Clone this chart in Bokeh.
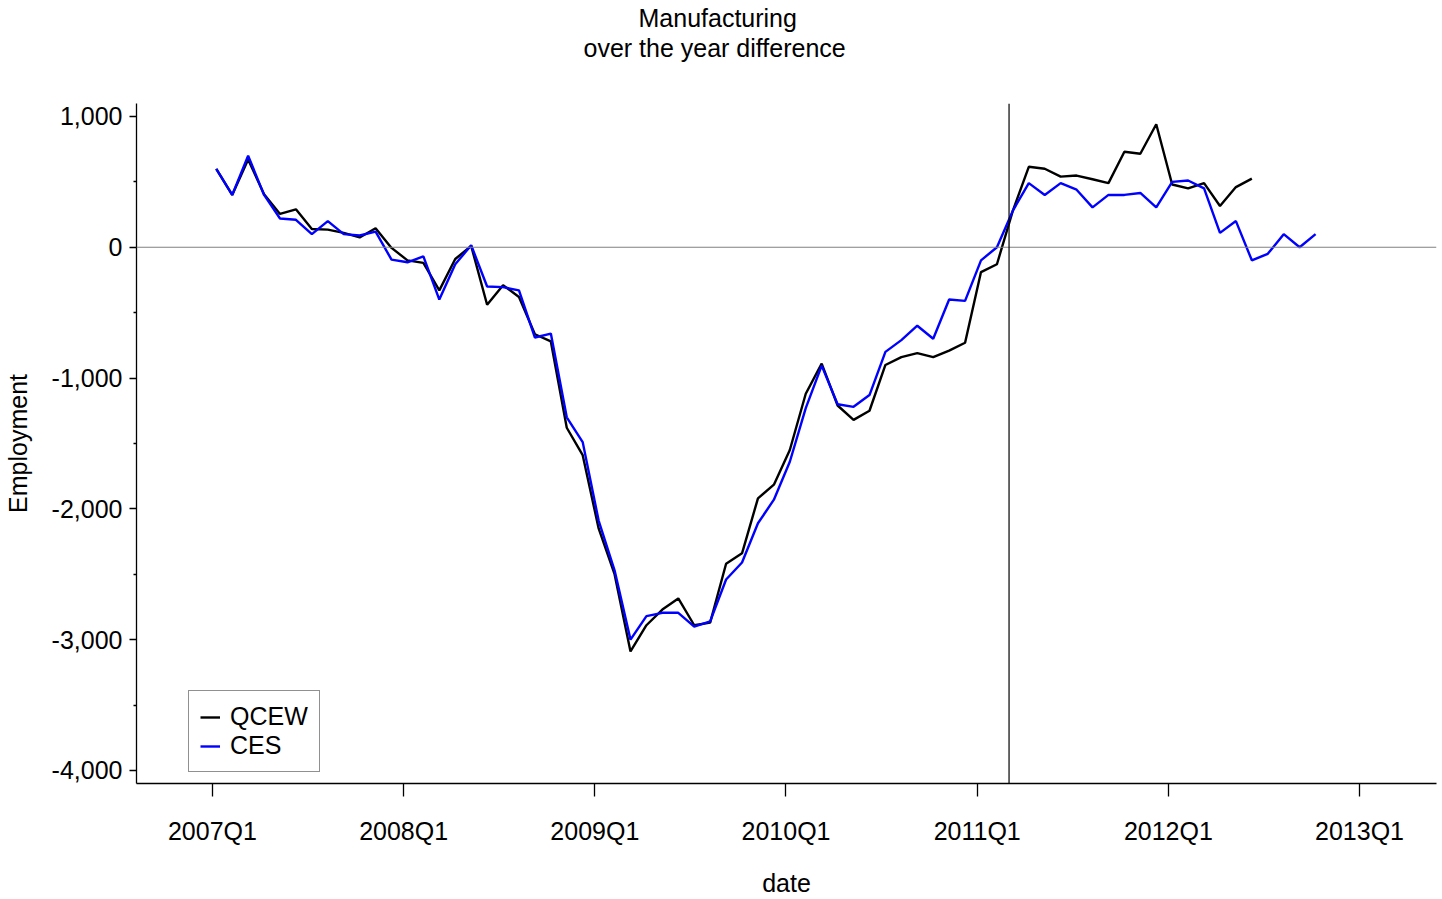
import numpy as np
from bokeh.plotting import figure
from bokeh.models import (Span, FixedTicker, NumeralTickFormatter, Range1d, Title)
from bokeh.embed import file_html
from bokeh.resources import INLINE

# ---------------- data (monthly, starting 2007m1) ----------------
start_year = 2007
qcew = [600, 400, 670, 405, 255, 290, 140, 135, 110, 75,
        145, -5, -100, -120, -330, -90, 10, -440, -290, -380,
        -665, -720, -1380, -1590, -2150, -2500, -3090, -2890, -2770, -2685,
        -2890, -2870, -2420, -2340, -1920, -1815, -1550, -1120, -890, -1210,
        -1320, -1250, -900, -840, -810, -840, -790, -730, -190, -130,
        280, 615, 600, 540, 548, 520, 490, 730, 715, 940,
        480, 450, 490, 315, 460, 525]
ces = [600, 400, 700, 400, 220, 210, 100, 200, 100, 90,
       120, -95, -115, -70, -400, -130, 15, -300, -305, -330,
       -690, -660, -1300, -1490, -2090, -2470, -3000, -2820, -2795, -2795,
       -2900, -2860, -2540, -2410, -2110, -1930, -1640, -1230, -905, -1200,
       -1220, -1130, -800, -710, -600, -700, -400, -410, -100, 0,
       280, 490, 400, 490, 440, 305, 400, 400, 415, 305,
       500, 510, 450, 110, 200, -100, -50, 100, 0, 100]
quarter_labels = ["2007Q1", "2008Q1", "2009Q1", "2010Q1", "2011Q1", "2012Q1", "2013Q1"]
y_ticks = [-4000, -3000, -2000, -1000, 0, 1000]
y_minor = [-3500, -2500, -1500, -500, 500]
break_date = (2011, 3)          # vertical reference line (March 2011)
day_offset = 0.24               # data points plotted a few days into each month

def month_index(year, month):
    return (year - start_year) * 12 + (month - 1)

x_qcew = np.arange(len(qcew)) + day_offset
x_ces = np.arange(len(ces)) + day_offset
tick_pos = [month_index(start_year + i, 1) for i in range(len(quarter_labels))]

FONT = "Liberation Sans"
FS = "25px"

# layout (canvas pixels)
W, H = 1442, 899
FRAME_LEFT, FRAME_RIGHT = 135, 1436
FRAME_TOP, FRAME_BOTTOM = 103, 783

p = figure(width=W, height=H, output_backend="svg", toolbar_location=None,
           x_range=Range1d(-4.767, 76.83), y_range=Range1d(-4100, 1099),
           min_border_left=FRAME_LEFT, min_border_right=W - FRAME_RIGHT,
           min_border_top=FRAME_TOP, min_border_bottom=H - FRAME_BOTTOM)
p.background_fill_color = "white"
p.border_fill_color = "white"
p.outline_line_color = None
p.xgrid.visible = False
p.ygrid.visible = False

# titles: a blank spacer next to the frame, then the two title lines
title_kw = dict(text_font=FONT, text_font_size=FS, text_font_style="normal",
                text_color="black", align="left")
p.add_layout(Title(text=" ", standoff=12, **title_kw), "above")
p.add_layout(Title(text="over the year difference", offset=582 - FRAME_LEFT,
                   standoff=0, **title_kw), "above")
p.add_layout(Title(text="Manufacturing", offset=637 - FRAME_LEFT,
                   standoff=0, **title_kw), "above")

# reference lines
p.add_layout(Span(location=0, dimension="width", line_color="#808080", line_width=1.2))
p.add_layout(Span(location=month_index(*break_date), dimension="height",
                  line_color="black", line_width=1.2))

p.line(x_qcew, qcew, line_color="black", line_width=2.4, legend_label="QCEW")
p.line(x_ces, ces, line_color="#0000ff", line_width=2.4, legend_label="CES")

# x axis
xa = p.xaxis[0]
xa.ticker = FixedTicker(ticks=tick_pos, minor_ticks=[])
xa.major_label_overrides = {t: l for t, l in zip(tick_pos, quarter_labels)}
xa.axis_label = "date"
xa.major_tick_out = 13
xa.major_tick_in = 0
xa.minor_tick_out = 0
xa.major_label_standoff = 20
xa.axis_label_standoff = 21

# y axis
ya = p.yaxis[0]
ya.ticker = FixedTicker(ticks=y_ticks, minor_ticks=y_minor)
ya.formatter = NumeralTickFormatter(format="0,0")
ya.axis_label = "Employment"
ya.major_tick_out = 7
ya.major_tick_in = 0
ya.minor_tick_out = 3
ya.minor_tick_in = 0
ya.major_label_standoff = 7
ya.axis_label_standoff = 17
ya.major_label_orientation = "horizontal"

for ax in (xa, ya):
    ax.axis_line_color = "black"
    ax.axis_line_width = 1.3
    ax.major_tick_line_color = "black"
    ax.major_tick_line_width = 1.3
    ax.minor_tick_line_color = "black"
    ax.minor_tick_line_width = 1.3
    ax.major_label_text_font = FONT
    ax.major_label_text_font_size = FS
    ax.major_label_text_color = "black"
    ax.axis_label_text_font = FONT
    ax.axis_label_text_font_size = FS
    ax.axis_label_text_font_style = "normal"
    ax.axis_label_text_color = "black"

leg = p.legend[0]
leg.location = (187 - FRAME_LEFT, FRAME_BOTTOM - 772)
leg.margin = 0
leg.padding = 11
leg.spacing = 0
leg.glyph_width = 20
leg.glyph_height = 20
leg.label_height = 20
leg.label_standoff = 10
leg.label_text_font = FONT
leg.label_text_font_size = FS
leg.label_text_color = "black"
leg.border_line_color = "#222222"
leg.border_line_width = 1.3
leg.background_fill_color = "white"
leg.background_fill_alpha = 1.0

open("out.html", "w").write(file_html(p, INLINE))
